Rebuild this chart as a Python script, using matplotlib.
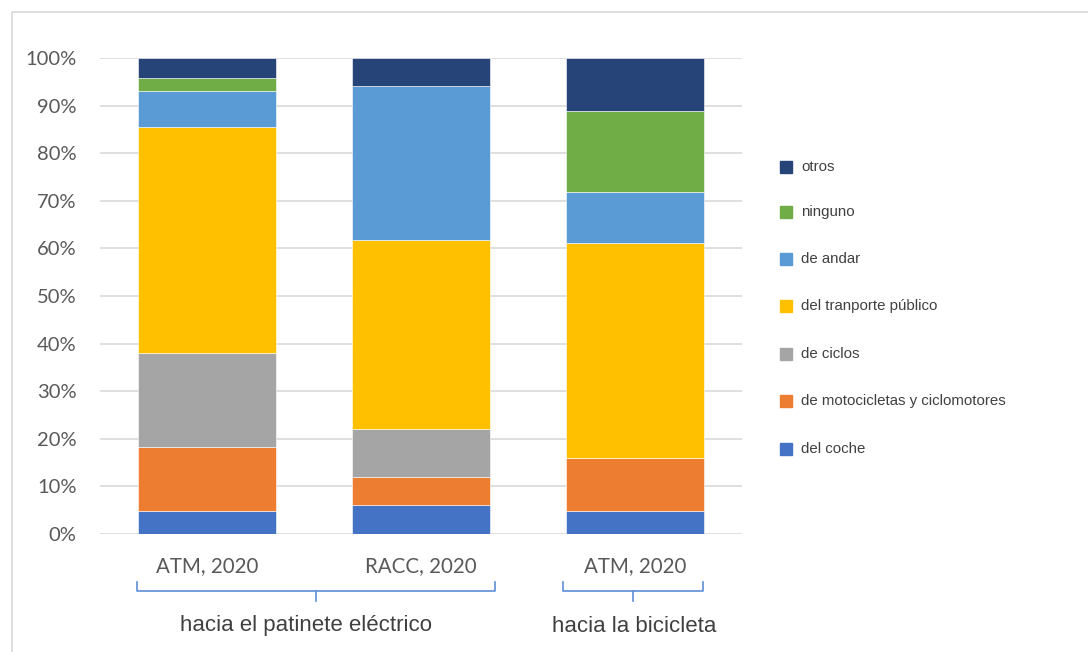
import matplotlib
matplotlib.use("Agg")
import matplotlib.pyplot as plt
from matplotlib.lines import Line2D
from matplotlib.patches import Rectangle
from matplotlib.ticker import PercentFormatter
import numpy as np

categories = ["ATM, 2020", "RACC, 2020", "ATM, 2020"]
groups = ["hacia el patinete eléctrico", "hacia la bicicleta"]
series_names = ["del coche", "de motocicletas y ciclomotores", "de ciclos",
                "del tranporte público", "de andar", "ninguno", "otros"]
coche = [4.9, 6.0, 4.9]
moto = [13.3, 5.9, 11.1]
ciclos = [19.8, 10.1, 0.0]
publico = [47.6, 39.8, 45.1]
andar = [7.4, 32.3, 10.7]
ninguno = [2.9, 0.0, 17.1]
otros = [4.1, 5.9, 11.1]
series = [coche, moto, ciclos, publico, andar, ninguno, otros]
colors = ["#4472C4", "#ED7D31", "#A5A5A5", "#FFC000", "#5B9BD5", "#70AD47", "#264478"]

W, H = 1088, 652
fig = plt.figure(figsize=(W / 100, H / 100), dpi=100)
ax = fig.add_axes([100 / W, (H - 534) / H, 642 / W, 476 / H])

x = np.arange(len(categories))
bottom = np.zeros(len(categories))
for vals, c in zip(series, colors):
    ax.bar(x, vals, width=0.645, bottom=bottom, color=c, edgecolor="white",
           linewidth=0.4, zorder=3)
    bottom += np.array(vals)

ax.set_xlim(-0.5, 2.5)
ax.set_ylim(0, 100)
ax.set_yticks(np.arange(0, 101, 10))
ax.yaxis.set_major_formatter(PercentFormatter(decimals=0))
ax.grid(axis="y", color="#D9D9D9", linewidth=1.2, zorder=0)
for s in ax.spines.values():
    s.set_visible(False)
ax.tick_params(axis="both", length=0)
ax.tick_params(axis="y", pad=17, labelsize=14.5, labelcolor="#595959")
ax.tick_params(axis="x", pad=16, labelsize=14.8, labelcolor="#595959")
ax.set_xticks(x)
ax.set_xticklabels(categories)
for lab in ax.get_xticklabels() + ax.get_yticklabels():
    lab.set_family("Lato")

# group brackets (pixel geometry)
def px(v):
    return v / W
def py(v):
    return (H - v) / H

bcol = "#5B8FD6"
brackets = [(137, 495, 316), (563, 703, 633)]
label_x = [306, 634]
for (l, r, c), g, lx in zip(brackets, groups, label_x):
    fig.add_artist(Line2D([px(l), px(l), px(r), px(r)], [py(582), py(591), py(591), py(582)],
                          color=bcol, linewidth=1.2))
    fig.add_artist(Line2D([px(c), px(c)], [py(591), py(601)], color=bcol, linewidth=1.2))
    fig.text(px(lx), py(626), g, ha="center", va="center", fontsize=16,
             family="Liberation Sans", color="#404040")

# legend (manual)
ys = [449, 401, 354, 306, 259, 212, 167]
for name, c, yy in zip(series_names, colors, ys):
    fig.add_artist(Rectangle((px(780), py(yy + 6)), 12 / W, 12 / H, color=c))
    fig.text(px(801), py(yy), name, ha="left", va="center", fontsize=10.8,
             family="Liberation Sans", color="#404040")

# figure border
fig.add_artist(Line2D([px(11.5), px(11.5), px(1088)], [0, py(12), py(12)],
                      color="#D9D9D9", linewidth=1.2))

fig.savefig("out.png", dpi=100, facecolor="white")
